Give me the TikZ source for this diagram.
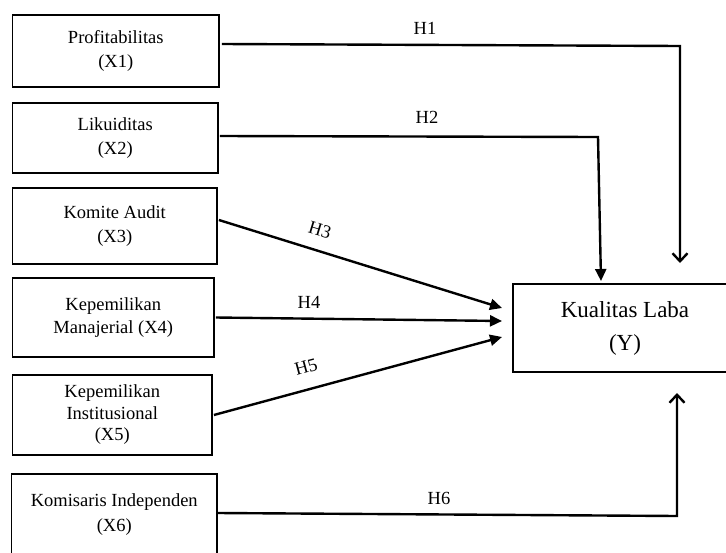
\documentclass[tikz,border=0pt]{standalone}
\usepackage{fontspec}
\setmainfont{Liberation Serif}
\usetikzlibrary{arrows.meta}
\begin{document}
\begin{tikzpicture}[x=1pt,y=-1pt,
  varbox/.style={draw,line width=1.8pt,inner sep=0pt,align=center,rectangle,
    font=\fontsize{18.5}{24.5}\selectfont},
  conn/.style={line width=2.4pt,line join=miter},
  filledtip/.style={-{Triangle[length=12pt,width=11pt]}},
  opentip/.style={-{Straight Barb[length=8pt,width=15pt]}},
  hlabel/.style={font=\fontsize{18.5}{20}\selectfont,inner sep=0pt}]
\useasboundingbox (0,0) rectangle (726,552);
\clip (0,0) rectangle (726,552);

% variable boxes
\node[varbox,minimum width=206.5pt,minimum height=72pt] (X1) at (115.75,51) {Profitabilitas\\(X1)};
\node[varbox,minimum width=205.5pt,minimum height=70pt] (X2) at (115.25,138) {Likuiditas\\(X2)};
\node[varbox,minimum width=204.5pt,minimum height=76pt] (X3) at (114.75,226) {Komite Audit\\(X3)};
\node[varbox,minimum width=201.5pt,minimum height=79pt,font=\fontsize{18.5}{23}\selectfont] (X4) at (113.25,317.5) {Kepemilikan\\Manajerial (X4)};
\node[varbox,minimum width=199.5pt,minimum height=80pt,font=\fontsize{18.5}{21.5}\selectfont] (X5) at (112.25,415) {Kepemilikan\\Institusional\\(X5)};
\node[varbox,minimum width=205.5pt,minimum height=81pt] (X6) at (114.25,514.5) {Komisaris Independen\\(X6)};
\node[varbox,minimum width=224pt,minimum height=88pt,font=\fontsize{23}{33}\selectfont] (Y) at (625,328) {Kualitas Laba\\(Y)};

% connector helper coordinates
\coordinate (c1a) at (680,46);
\coordinate (c1b) at (680,263);
\coordinate (c2a) at (598,137);
\coordinate (c2b) at (601,281);
\coordinate (c3) at (502,308);
\coordinate (c4) at (502,321);
\coordinate (c5) at (502,337);
\coordinate (c6a) at (677,516);
\coordinate (c6b) at (677,393);

% connectors
\draw[conn,opentip] ([xshift=2pt,yshift=7pt]X1.east) -- (c1a) -- (c1b);
\draw[conn,filledtip] ([xshift=1pt,yshift=2pt]X2.east) -- (c2a) -- (c2b);
\draw[conn,filledtip] ([xshift=1pt,yshift=6pt]X3.east) -- (c3);
\draw[conn,filledtip] ([xshift=1pt]X4.east) -- (c4);
\draw[conn,filledtip] ([xshift=1pt]X5.east) -- (c5);
\draw[conn,opentip] ([yshift=1.5pt]X6.east) -- (c6a) -- (c6b);

% labels
\node[hlabel] (h1) at (425,28) {H1};
\node[hlabel] (h2) at (427,117) {H2};
\node[hlabel,rotate=-17] (h3) at (320,230) {H3};
\node[hlabel] (h4) at (309,302) {H4};
\node[hlabel,rotate=15] (h5) at (306,367) {H5};
\node[hlabel] (h6) at (439,498) {H6};
\end{tikzpicture}
\end{document}
